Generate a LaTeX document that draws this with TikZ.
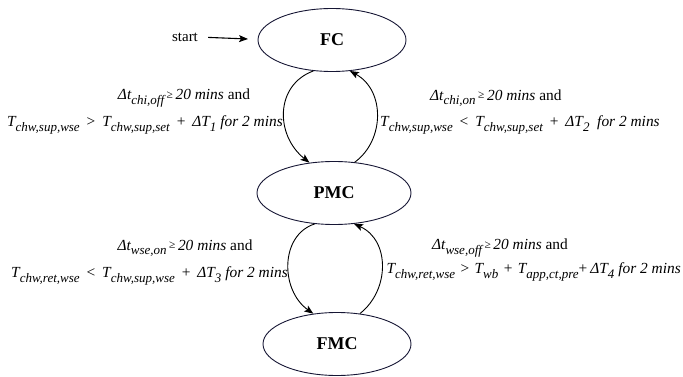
\documentclass[tikz,border=0pt]{standalone}
\usepackage{fontspec}
\setmainfont{Liberation Serif}
\usetikzlibrary{arrows.meta,shapes.geometric}
% lowered italic subscript and a small relation sign
\newcommand\lowsub[1]{\raisebox{-4.5pt}{\fontsize{13}{14}\selectfont\itshape #1}}
\newcommand\geqsym{\raisebox{1.5pt}{\fontsize{11.5}{12}\selectfont\upshape ≥}}
\newcommand\rel[1]{\hspace{0.45em}{\upshape #1}\hspace{0.45em}}
\definecolor{edgeink}{RGB}{22,22,52}
\begin{document}
\begin{tikzpicture}[x=1pt,y=-1pt,
  state/.style={draw=edgeink,line width=0.9pt,ellipse,inner sep=0pt,
    minimum width=148pt,minimum height=63pt,font=\fontsize{18}{20}\selectfont\bfseries},
  cond/.style={inner sep=0pt,font=\fontsize{15.4}{17}\selectfont\itshape},
  trans/.style={line width=0.9pt,-{Stealth[length=9pt,width=7pt,inset=2pt]}}]
\useasboundingbox (0,0) rectangle (683,377);

% states
\node[state] (fc)  at (332,40)  {FC};
\node[state,minimum width=154pt] (pmc) at (334,193) {PMC};
\node[state] (fmc) at (337,344) {FMC};

% initial arrow
\node[inner sep=0pt,font=\fontsize{15}{16}\selectfont] (start) at (185,37) {start};
\coordinate (entry) at (248,39);
\draw[trans,line width=1.1pt,shorten <=10pt] (start.east) -- (entry);

% transitions FC <-> PMC
\draw[trans] (fc.239) .. controls (275,85) and (275,135) .. (pmc.129);
\draw[trans] (pmc.56) .. controls (385,140) and (385,90) .. (fc.300);

% transitions PMC <-> FMC
\draw[trans] (pmc.238) .. controls (280,235) and (280,290) .. (fmc.128);
\draw[trans] (fmc.53) .. controls (390,290) and (390,240) .. (pmc.303);

% guard conditions
\node[cond] (l1a) at (184,98) {Δt\lowsub{chi,off}\,\geqsym\,20 mins {\upshape and}};
\node[cond,anchor=east] (l1b) at (283,125) {T\lowsub{chw,sup,wse}\rel{>}T\lowsub{chw,sup,set}\rel{+}ΔT\lowsub{1} for 2 mins};
\node[cond,anchor=west] (r1a) at (430,98) {Δt\lowsub{chi,on}\,\geqsym\,20 mins {\upshape and}};
\node[cond,anchor=west] (r1b) at (380,125) {T\lowsub{chw,sup,wse}\rel{<}T\lowsub{chw,sup,set}\rel{+}ΔT\lowsub{2}\ \ for 2 mins};

\node[cond] (l2a) at (185,248) {Δt\lowsub{wse,on}\,\geqsym\,20 mins {\upshape and}};
\node[cond,anchor=east] (l2b) at (288,276) {T\lowsub{chw,ret,wse}\rel{<}T\lowsub{chw,sup,wse}\rel{+}ΔT\lowsub{3} for 2 mins};
\node[cond,anchor=west] (r2a) at (432,248) {Δt\lowsub{wse,off}\,\geqsym\,20 mins {\upshape and}};
\node[cond,anchor=east] (r2b) at (681,272) {T\lowsub{chw,ret,wse}\hspace{0.35em}{\upshape >}\hspace{0.35em}T\lowsub{wb}\hspace{0.35em}{\upshape +}\hspace{0.35em}T\lowsub{app,ct,pre}{\upshape +}\hspace{0.2em}ΔT\lowsub{4} for 2 mins};
\end{tikzpicture}
\end{document}
